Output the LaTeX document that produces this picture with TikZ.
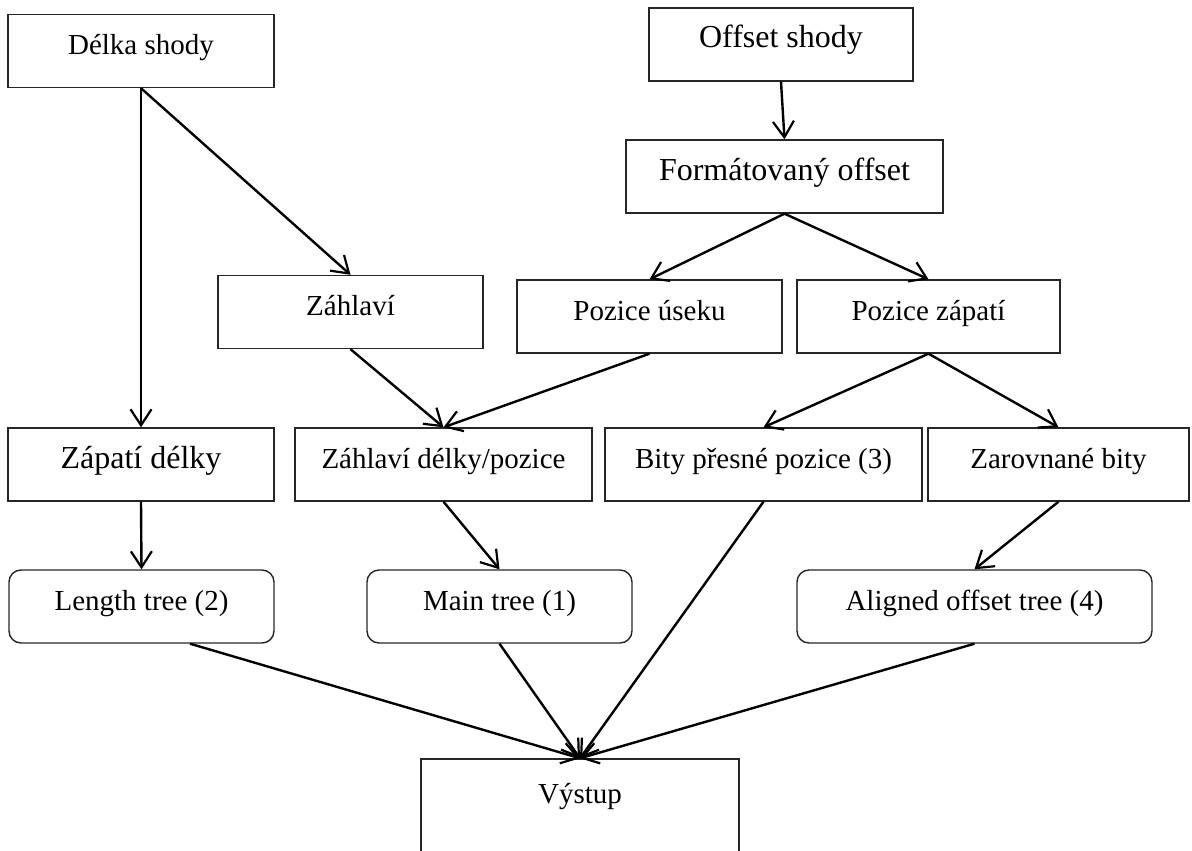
\documentclass[tikz,border=0pt]{standalone}
\usepackage{fontspec}
\setmainfont{Liberation Serif}
\usetikzlibrary{arrows.meta}
\begin{document}
\begin{tikzpicture}[x=1pt,y=-1pt,
  box/.style={draw=black!85, line width=1.4pt, inner sep=0pt,
    minimum height=73pt, text height=40pt, text depth=33pt,
    font=\fontsize{29}{34}\selectfont},
  rbox/.style={box, rounded corners=12pt},
  big/.style={font=\fontsize{32}{38}\selectfont},
  conn/.style={line width=2.4pt,
    -{Straight Barb[length=16pt,width=21pt,line width=2.2pt]}}]
\useasboundingbox (0,0) rectangle (1192,851);

% top row: inputs
\node[box, minimum width=266pt] (dlk) at (141,51) {Délka shody};
\node[box, big, minimum width=264pt] (off) at (781,44.5) {Offset shody};
\node[box, big, minimum width=317pt] (fmt) at (784.5,176.5) {Formátovaný offset};

% second row
\node[box, minimum width=265pt] (zhl) at (350.5,312) {Záhlaví};
\node[box, minimum width=265pt] (pus) at (649.5,316.5) {Pozice úseku};
\node[box, minimum width=263pt] (pzp) at (928.5,316.5) {Pozice zápatí};

% third row
\node[box, big, minimum width=266pt] (zpd) at (141,464.5) {Zápatí délky};
\node[box, minimum width=297pt] (zdp) at (443.5,464.5) {Záhlaví délky/pozice};
\node[box, minimum width=317pt] (bpp) at (763.5,464.5) {Bity přesné pozice (3)};
\node[box, minimum width=261pt] (zab) at (1058.5,464.5) {Zarovnané bity};

% trees
\node[rbox, minimum width=265pt] (lt) at (141.5,606.5) {Length tree (2)};
\node[rbox, minimum width=265pt] (mt) at (499.5,606.5) {Main tree (1)};
\node[rbox, minimum width=355pt] (aot) at (974.5,606.5) {Aligned offset tree (4)};

% output
\node[box, minimum width=318pt, minimum height=94pt, text height=44pt, text depth=50pt]
  (vys) at (580,806) {Výstup};

% connectors
\draw[conn] (dlk.south) -- (zpd.north);
\draw[conn] (dlk.south) -- (zhl.north);
\draw[conn] (off.south) -- (fmt.north);
\draw[conn] (fmt.south) -- (pus.north);
\draw[conn] (fmt.south) -- (pzp.north);
\draw[conn] (zhl.south) -- (zdp.north);
\draw[conn] (pus.south) -- (zdp.north);
\draw[conn] (pzp.south) -- (bpp.north);
\draw[conn] (pzp.south) -- (zab.north);
\draw[conn] (zpd.south) -- (lt.north);
\draw[conn] (zdp.south) -- (mt.north);
\draw[conn] (zab.south) -- (aot.north);
\draw[conn] ([xshift=48.5pt]lt.south) -- (vys.north);
\draw[conn] (mt.south) -- (vys.north);
\draw[conn] (bpp.south) -- (vys.north);
\draw[conn] (aot.south) -- (vys.north);
\end{tikzpicture}
\end{document}
